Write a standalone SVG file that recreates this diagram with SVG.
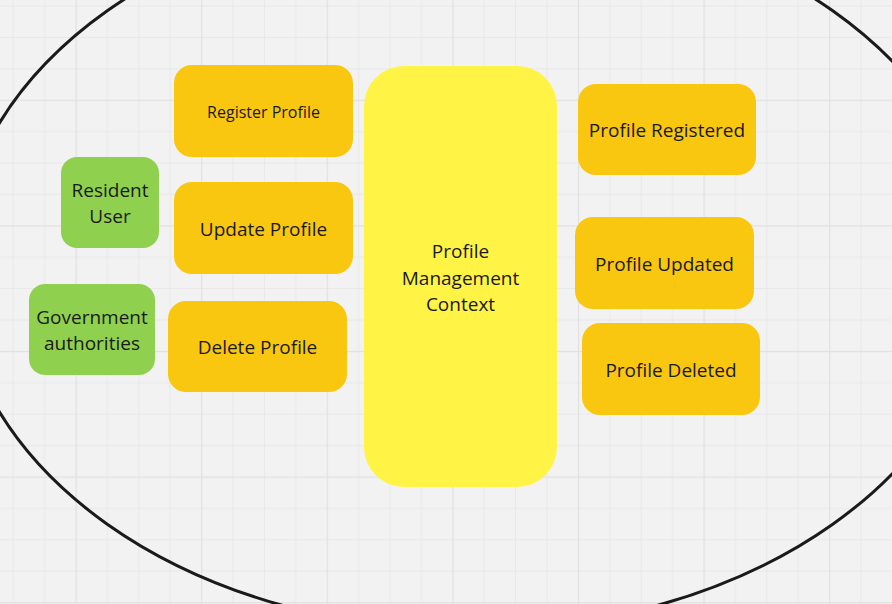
<svg xmlns="http://www.w3.org/2000/svg" width="892" height="604" viewBox="0 0 892 604">
  <defs>
    <pattern id="grid" patternUnits="userSpaceOnUse" x="75.5" y="99.7" width="125.6" height="125.6">
      <rect x="31.4" y="0" width="1" height="125.6" fill="#e8e8e8"/>
      <rect x="62.8" y="0" width="1" height="125.6" fill="#e8e8e8"/>
      <rect x="94.2" y="0" width="1" height="125.6" fill="#e8e8e8"/>
      <rect x="0" y="31.4" width="125.6" height="1" fill="#e8e8e8"/>
      <rect x="0" y="62.8" width="125.6" height="1" fill="#e8e8e8"/>
      <rect x="0" y="94.2" width="125.6" height="1" fill="#e8e8e8"/>
      <rect x="0" y="0" width="1.2" height="125.6" fill="#e0e0e0"/>
      <rect x="0" y="0" width="125.6" height="1.2" fill="#e0e0e0"/>
    </pattern>
    <style>
      .evt { fill: #FAC710; }
      .actor { fill: #8FD14F; }
      .ctx { fill: #FFF445; }
      text { font-family: "Open Sans", "Noto Sans", "Liberation Sans", sans-serif; fill: #1a1a1a; text-anchor: middle; font-size: 19px; }
      .small { font-size: 16px; }
    </style>
  </defs>

  <rect x="0" y="0" width="892" height="604" fill="#f2f2f2"/>
  <rect x="0" y="0" width="892" height="604" fill="url(#grid)"/>

  <g id="boundary">
    <ellipse cx="470" cy="267.5" rx="513" ry="363" fill="none" stroke="#1a1a1a" stroke-width="3"/>
  </g>

  <g id="connectors"></g>

  <g id="register-profile">
    <rect class="evt" x="174" y="65" width="179" height="92" rx="18"/>
    <text class="small" x="263.5" y="117.5">Register Profile</text>
  </g>
  <g id="update-profile">
    <rect class="evt" x="174" y="182" width="179" height="92" rx="18"/>
    <text x="263.5" y="235.5">Update Profile</text>
  </g>
  <g id="delete-profile">
    <rect class="evt" x="168" y="301" width="179" height="91" rx="18"/>
    <text x="257.5" y="354">Delete Profile</text>
  </g>
  <g id="resident-user">
    <rect class="actor" x="61" y="157" width="98" height="91" rx="16"/>
    <text x="110" y="196.5">Resident</text>
    <text x="110" y="223">User</text>
  </g>
  <g id="government-authorities">
    <rect class="actor" x="29" y="284" width="126" height="91" rx="16"/>
    <text x="92" y="324">Government</text>
    <text x="92" y="350">authorities</text>
  </g>
  <g id="profile-management-context">
    <rect class="ctx" x="364" y="66" width="193" height="421" rx="40"/>
    <text x="460.5" y="257.5">Profile</text>
    <text x="460.5" y="284.5">Management</text>
    <text x="460.5" y="311">Context</text>
  </g>
  <g id="profile-registered">
    <rect class="evt" x="578" y="84" width="178" height="91" rx="18"/>
    <text x="667" y="137">Profile Registered</text>
  </g>
  <g id="profile-updated">
    <rect class="evt" x="575" y="217" width="179" height="92" rx="18"/>
    <text x="664.5" y="271">Profile Updated</text>
  </g>
  <g id="profile-deleted">
    <rect class="evt" x="582" y="323" width="178" height="92" rx="18"/>
    <text x="671" y="376.5">Profile Deleted</text>
  </g>
</svg>
